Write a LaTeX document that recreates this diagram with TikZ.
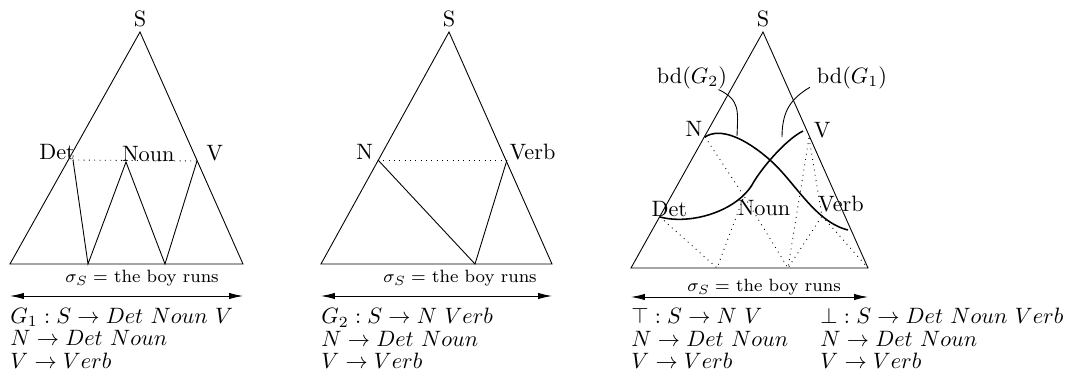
\documentclass[tikz,border=0pt]{standalone}
\usepackage{fontspec}
\usepackage{amsmath,amssymb}
\usetikzlibrary{arrows.meta,positioning}

\begin{document}
\begin{tikzpicture}[x=0.45pt, y=-0.45pt, font=\normalsize,
  lbl/.style={inner sep=0pt},
  dots/.style={dotted},
  bd/.style={line width=0.7pt},
  span/.style={{Latex[length=2.2mm,width=1mm]}-{Latex[length=2.2mm,width=1mm]}},
  sent/.style={font=\footnotesize\addfontfeature{LetterSpace=8}, inner sep=0pt},
  gram/.style={align=left, anchor=north west, inner sep=0pt}]
\useasboundingbox (0,0) rectangle (1071,379);

% G_1
\coordinate (s1) at (140,32);
\coordinate (l1) at (10,264);
\coordinate (r1) at (243,264);
\coordinate (det1) at (73,160);
\coordinate (noun1) at (126,162);
\coordinate (v1) at (197,161);
\coordinate (b1a) at (88,264);
\coordinate (b1b) at (165,264);
\draw (l1) -- (s1) -- (r1) -- cycle;
\draw (det1) -- (b1a) -- (noun1) -- (b1b) -- (v1);
\draw[dots] (det1) -- (v1);
\node[lbl, above=2pt of s1] (s1l) {S};
\node[lbl, anchor=base east, xshift=1pt] (det1l) at (det1) {Det};
\node[lbl, anchor=base west, xshift=-2pt] (noun1l) at (noun1) {Noun};
\node[lbl, anchor=base west, xshift=4pt] (v1l) at (v1) {V};
\node[sent] (sent1) at (142,278) {$\sigma_S =$ the boy runs};
\coordinate (a1) at (10,296);
\coordinate (a1e) at (243,296);
\draw[span] (a1) -- (a1e);
\node[gram] (g1) at (10,308) {$G_1 : S \rightarrow Det\ Noun\ V$\\[-2pt]
  $N \rightarrow Det\ Noun$\\[-2pt] $V \rightarrow Verb$};

% G_2
\coordinate (s2) at (449,32);
\coordinate (l2) at (321,264);
\coordinate (r2) at (552,264);
\coordinate (n2) at (378,160);
\coordinate (verb2) at (507,160);
\coordinate (b2) at (475,264);
\draw (l2) -- (s2) -- (r2) -- cycle;
\draw (n2) -- (b2) -- (verb2);
\draw[dots] (n2) -- (verb2);
\node[lbl, above=2pt of s2] (s2l) {S};
\node[lbl, anchor=base east, xshift=-2pt] (n2l) at (n2) {N};
\node[lbl, anchor=base west, xshift=1pt] (verb2l) at (verb2) {Verb};
\node[sent] (sent2) at (460,278) {$\sigma_S =$ the boy runs};
\coordinate (a2) at (321,296);
\coordinate (a2e) at (552,296);
\draw[span] (a2) -- (a2e);
\node[gram] (g2) at (321,308) {$G_2 : S \rightarrow N\ Verb$\\[-2pt]
  $N \rightarrow Det\ Noun$\\[-2pt] $V \rightarrow Verb$};

% top and bottom
\coordinate (s3) at (763,32);
\coordinate (l3) at (631,268);
\coordinate (r3) at (868,268);
\coordinate (n3) at (705,137);
\coordinate (v3) at (809,138);
\coordinate (det3) at (660,217);
\coordinate (noun3) at (744,196);
\coordinate (verb3) at (822,216);
\coordinate (b3a) at (717,268);
\coordinate (b3b) at (788,268);
\draw (l3) -- (s3) -- (r3) -- cycle;
\draw[dots] (det3) -- (b3a) -- (noun3) -- (b3b);
\draw[dots] (n3) -- (noun3);
\draw[dots] (v3) -- (b3b);
\draw[dots] (v3) -- (verb3) -- (b3b);
\draw[dots] (verb3) -- (r3);
\node[lbl, above=2pt of s3] (s3l) {S};
\node[lbl, anchor=base east, xshift=-1pt] (n3l) at (n3) {N};
\node[lbl, anchor=base west, xshift=2pt] (v3l) at (v3) {V};
\node[lbl, anchor=base west, xshift=-4pt] (det3l) at (det3) {Det};
\node[lbl, anchor=base west, xshift=-3pt, yshift=-9pt] (noun3l) at (noun3) {Noun};
\node[lbl, anchor=base west, xshift=-2pt, yshift=2pt] (verb3l) at (verb3) {Verb};
% boundaries
\draw[bd] (n3) .. controls (720,127) and (745,138) .. (770,160)
  .. controls (795,182) and (815,222) .. (848,230);
\draw[bd] (det3) .. controls (690,225) and (735,212) .. (752,185)
  .. controls (760,170) and (785,140) .. (803,131);
\node[lbl] (bd2) at (692,78) {bd$(G_2)$};
\node[lbl] (bd1) at (852,78) {bd$(G_1)$};
\coordinate (bd2e) at (737,136);
\coordinate (bd1e) at (782,137);
\draw ([xshift=-4pt]bd2.south east) .. controls (740,100) and (738,110) .. (bd2e);
\draw ([xshift=-3pt,yshift=1pt]bd1.south west) .. controls (792,98) and (782,110) .. (bd1e);
\node[sent] (sent3) at (764,287) {$\sigma_S =$ the boy runs};
\coordinate (a3) at (631,297);
\coordinate (a3e) at (868,297);
\draw[span] (a3) -- (a3e);
\node[gram] (g3) at (631,308) {$\top : S \rightarrow N\ V$\\[-2pt]
  $N \rightarrow Det\ Noun$\\[-2pt] $V \rightarrow Verb$};
\node[gram] (g4) at (820,308) {$\bot : S \rightarrow Det\ Noun\ Verb$\\[-2pt]
  $N \rightarrow Det\ Noun$\\[-2pt] $V \rightarrow Verb$};
\end{tikzpicture}
\end{document}
